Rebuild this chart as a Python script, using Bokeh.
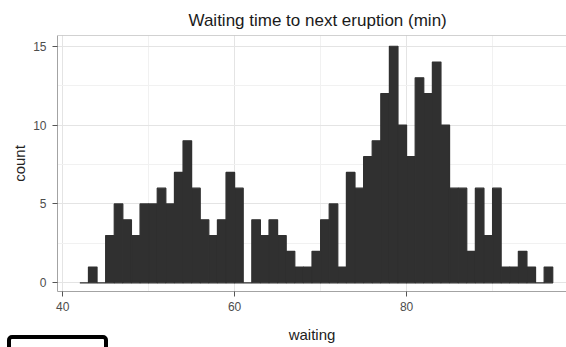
from bokeh.plotting import figure
from bokeh.models import (Range1d, SingleIntervalTicker, Span, Div,
                          ColumnDataSource)
from bokeh.layouts import column
from bokeh.embed import file_html
from bokeh.resources import INLINE

# Old Faithful waiting times, one-minute bins (left edge of each bin)
bin_start = list(range(42, 97))
counts = [0, 1, 0, 3, 5, 4, 3, 5, 5, 6, 5, 7, 9, 6, 4, 3, 4, 7, 6, 0,
          4, 3, 4, 3, 2, 1, 1, 2, 4, 5, 1, 7, 6, 8, 9, 12, 15, 10, 8, 13,
          12, 14, 10, 6, 6, 2, 6, 3, 6, 1, 1, 2, 1, 0, 1]
bin_width = 1

title_text = "Waiting time to next eruption (min)"
x_label = "waiting"
y_label = "count"

FONT = "Liberation Sans"
BORDER = "#a3a3a3"
BAR = "#303030"

src = ColumnDataSource(dict(
    left=bin_start,
    right=[b + bin_width for b in bin_start],
    top=counts,
    bottom=[0] * len(counts),
))

p = figure(width=566, height=347, output_backend="svg", toolbar_location=None,
           x_range=Range1d(39.4, 98.6), y_range=Range1d(-0.55, 15.68),
           min_border_left=57, min_border_right=0,
           min_border_top=35, min_border_bottom=56,
           title=title_text, x_axis_label=x_label, y_axis_label=y_label)

p.background_fill_color = "white"
p.border_fill_color = "white"
p.outline_line_color = None

# histogram bars; empty bins collapse to a line along zero
p.quad(left="left", right="right", top="top", bottom="bottom", source=src,
       fill_color=BAR, line_color=BAR, line_width=1.2)

# panel border on top (left/bottom come from the axis lines)
p.add_layout(Span(location=15.68, dimension="width", line_color=BORDER,
                  line_width=1))

# title centred over the full panel, part of which runs past the right edge
p.title.align = "left"
p.title.offset = 131
p.title.text_font = FONT
p.title.text_font_size = "17px"
p.title.text_font_style = "normal"
p.title.text_color = "#1a1a1a"
p.title.standoff = 12

p.xaxis.ticker = SingleIntervalTicker(interval=20, num_minor_ticks=2)
p.yaxis.ticker = SingleIntervalTicker(interval=5, num_minor_ticks=2)

for ax in (p.xaxis, p.yaxis):
    ax.axis_line_color = BORDER
    ax.major_tick_line_color = "#555555"
    ax.major_tick_out = 5
    ax.major_tick_in = 0
    ax.minor_tick_out = 0
    ax.minor_tick_in = 0
    ax.major_label_text_font = FONT
    ax.major_label_text_font_size = "12px"
    ax.major_label_text_color = "#4d4d4d"
    ax.axis_label_text_font = FONT
    ax.axis_label_text_font_size = "15px"
    ax.axis_label_text_font_style = "normal"
    ax.axis_label_text_color = "#222222"

p.xaxis.major_label_standoff = 5
p.xaxis.axis_label_standoff = 12
p.yaxis.major_label_standoff = 6
p.yaxis.axis_label_standoff = 2

for g in (p.xgrid, p.ygrid):
    g.grid_line_color = "#e4e4e4"
    g.minor_grid_line_color = "#f1f1f1"

# dark rounded frame peeking in at the lower left corner
corner_box = Div(
    text=('<div style="position:fixed; box-sizing:border-box; left:7px; '
          'top:335px; width:101px; height:34px; border:4px solid #000; '
          'border-radius:5px;"></div>'),
    width=0, height=0, margin=0,
)

layout = column(p, corner_box, spacing=0)

open("out.html", "w").write(file_html(layout, INLINE))
